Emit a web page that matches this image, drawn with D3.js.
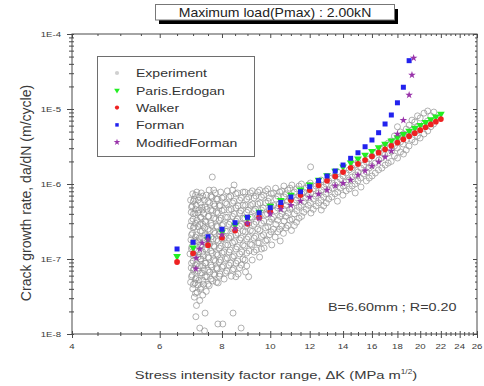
<!DOCTYPE html>
<html><head><meta charset="utf-8">
<script src="https://cdn.jsdelivr.net/npm/d3@7/dist/d3.min.js"></script>
<style>
body{margin:0;background:#fff}
text{font-family:"Liberation Sans",Arial,Helvetica,sans-serif}
</style>
</head><body>
<svg id="chart" width="484" height="386"></svg>
<script>
// ---------------- data ----------------
const titleText = "Maximum load(Pmax) : 2.00kN";
const noteText = "B=6.60mm ; R=0.20";
const xTitle = "Stress intensity factor range, \u0394K (MPa m";
const yTitle = "Crack growth rate, da/dN (m/cycle)";
const xTickLabels = [4, 6, 8, 10, 12, 14, 16, 18, 20, 22, 24, 26];
const yTickValues = [1e-8, 1e-7, 1e-6, 1e-5, 1e-4];
const legendNames = ["Experiment", "Paris.Erdogan", "Walker", "Forman", "ModifiedForman"];

const modelK = [6.5, 7, 7.5, 8, 8.5, 9, 9.5, 10, 10.5, 11, 11.5, 12, 12.5, 13, 13.5, 14,
  14.5, 15, 15.5, 16, 16.5, 17, 17.5, 18, 18.5, 19, 19.5, 20, 20.5, 21, 21.5, 22];
const parisRate = [1.086e-7, 1.417e-7, 1.815e-7, 2.287e-7, 2.84e-7, 3.485e-7, 4.23e-7, 5.085e-7,
  6.057e-7, 7.156e-7, 8.39e-7, 9.776e-7, 1.131e-6, 1.302e-6, 1.49e-6, 1.698e-6,
  1.926e-6, 2.174e-6, 2.444e-6, 2.74e-6, 3.06e-6, 3.403e-6, 3.776e-6, 4.179e-6,
  4.611e-6, 5.073e-6, 5.562e-6, 6.093e-6, 6.662e-6, 7.258e-6, 7.894e-6, 8.575e-6];
const walkerRate = [9.12e-8, 1.191e-7, 1.528e-7, 1.927e-7, 2.396e-7, 2.943e-7, 3.577e-7, 4.301e-7,
  5.13e-7, 6.064e-7, 7.115e-7, 8.296e-7, 9.609e-7, 1.106e-6, 1.268e-6, 1.445e-6,
  1.641e-6, 1.853e-6, 2.084e-6, 2.337e-6, 2.612e-6, 2.906e-6, 3.227e-6, 3.573e-6,
  3.943e-6, 4.341e-6, 4.764e-6, 5.22e-6, 5.709e-6, 6.223e-6, 6.77e-6, 7.355e-6];
const formanK = [6.5, 7, 7.5, 8, 8.5, 9, 9.5, 10, 10.5, 11, 11.5, 12, 12.5, 13, 13.5, 14,
  14.5, 15, 15.5, 16, 16.5, 17, 17.5, 18, 18.5, 19];
const formanRate = [1.36e-7, 1.67e-7, 1.98e-7, 2.49e-7, 3.05e-7, 3.6e-7, 4.14e-7, 4.83e-7,
  5.67e-7, 6.71e-7, 7.89e-7, 9.2e-7, 1.11e-6, 1.28e-6, 1.49e-6, 1.79e-6,
  2.2e-6, 2.61e-6, 3.14e-6, 3.86e-6, 4.83e-6, 6.31e-6, 8.32e-6, 1.21e-5, 1.95e-5, 4.41e-5];
const modFormanK = [7.09, 7.1, 7.22, 7.3, 7.5, 8, 8.5, 9, 9.5, 10, 10.5, 11, 11.5, 12, 12.5, 13,
  13.5, 14, 14.5, 15, 15.5, 16, 16.5, 17, 17.5, 18, 18.5, 19, 19.25, 19.4];
const modFormanRate = [7.4e-8, 1.03e-7, 1.36e-7, 1.64e-7, 1.8e-7, 2.1e-7, 2.55e-7, 3.0e-7, 3.5e-7,
  4.0e-7, 4.6e-7, 5.2e-7, 5.9e-7, 6.65e-7, 7.36e-7, 8.3e-7, 9.5e-7, 1.02e-6, 1.13e-6, 1.32e-6,
  1.5e-6, 1.74e-6, 1.96e-6, 2.29e-6, 2.75e-6, 4.64e-6, 7.1e-6, 1.54e-5, 2.84e-5, 4.8e-5];

// experimental points [deltaK, da/dN]
const experiment = [
 [6.92,6.1e-7],[6.94,4.2e-7],[6.91,2.75e-7],[6.93,1.8e-7],[6.9,1.17e-7],[6.94,7.6e-8],[6.92,4.9e-8],
 [6.99,7.4e-7],[6.97,5.1e-7],[7.0,3.4e-7],[6.98,2.2e-7],[6.96,1.45e-7],[7.0,9.4e-8],[6.97,6.1e-8],[6.99,4.0e-8],
 [7.04,6.3e-7],[7.06,4.1e-7],[7.03,2.7e-7],[7.07,1.74e-7],[7.05,1.13e-7],[7.03,7.4e-8],[7.06,4.8e-8],[7.04,3.1e-8],
 [7.12,7.8e-7],[7.1,5.2e-7],[7.13,3.3e-7],[7.11,2.1e-7],[7.14,1.32e-7],[7.12,8.6e-8],[7.1,5.6e-8],[7.13,3.6e-8],[7.11,2.4e-8],[7.09,1.7e-8],
 [7.21,6.7e-7],[7.19,4.5e-7],[7.22,2.9e-7],[7.2,1.9e-7],[7.18,1.24e-7],[7.21,8.1e-8],[7.19,5.2e-8],[7.22,2.8e-8],
 [7.27,7.6e-7],[7.29,4.9e-7],[7.26,3.6e-7],[7.3,2.35e-7],[7.28,1.54e-7],[7.26,1.0e-7],[7.29,6.5e-8],[7.27,4.2e-8],[7.22,1.2e-8],
 [7.37,6.1e-7],[7.35,4.0e-7],[7.38,2.6e-7],[7.36,1.7e-7],[7.34,1.1e-7],[7.37,7.1e-8],[7.35,4.6e-8],[7.4,1.9e-8],
 [7.44,7.1e-7],[7.46,4.6e-7],[7.43,3.1e-7],[7.47,2.0e-7],[7.45,1.32e-7],[7.43,8.8e-8],[7.46,5.8e-8],[7.44,3.7e-8],[7.38,1.1e-8],
 [7.54,8.3e-7],[7.56,5.6e-7],[7.53,3.7e-7],[7.57,2.4e-7],[7.55,1.58e-7],[7.53,1.03e-7],[7.56,6.7e-8],[7.54,4.4e-8],
 [7.65,1.24e-6],[7.64,6.7e-7],[7.66,4.4e-7],[7.63,2.8e-7],[7.67,1.85e-7],[7.65,1.2e-7],[7.63,7.8e-8],[7.66,5.1e-8],
 [7.76,7.6e-7],[7.74,5.1e-7],[7.77,3.4e-7],[7.75,2.2e-7],[7.73,1.45e-7],[7.76,9.4e-8],[7.74,6.1e-8],
 [7.84,6.3e-7],[7.86,4.1e-7],[7.83,2.7e-7],[7.87,1.74e-7],[7.85,1.13e-7],[7.83,7.4e-8],[7.86,4.8e-8],[7.85,1.36e-8],
 [7.95,7.8e-7],[7.93,5.2e-7],[7.96,3.5e-7],[7.94,2.3e-7],[7.97,1.49e-7],[7.95,9.7e-8],[7.93,6.3e-8],
 [8.06,6.7e-7],[8.08,4.5e-7],[8.05,2.9e-7],[8.09,1.9e-7],[8.07,1.24e-7],[8.05,8.1e-8],[8.08,5.4e-8],[8.03,1.36e-8],
 [8.2,8.1e-7],[8.18,5.4e-7],[8.21,3.6e-7],[8.19,2.35e-7],[8.22,1.54e-7],[8.2,1.03e-7],[8.18,6.9e-8],
 [8.33,6.9e-7],[8.35,4.6e-7],[8.32,3.1e-7],[8.34,2.0e-7],[8.31,1.32e-7],[8.33,8.8e-8],[8.35,5.9e-8],
 [8.46,9.7e-7],[8.45,5.9e-7],[8.47,4.0e-7],[8.44,2.6e-7],[8.48,1.7e-7],[8.46,1.1e-7],[8.44,7.4e-8],[8.42,1.9e-8],
 [8.6,7.6e-7],[8.62,5.1e-7],[8.59,3.4e-7],[8.61,2.2e-7],[8.58,1.45e-7],[8.6,9.4e-8],[8.62,6.3e-8],
 [8.75,6.5e-7],[8.73,4.4e-7],[8.76,2.9e-7],[8.74,1.9e-7],[8.77,1.24e-7],[8.75,8.3e-8],[8.74,1.2e-8],
 [8.9,7.8e-7],[8.92,5.2e-7],[8.89,3.5e-7],[8.91,2.3e-7],[8.88,1.49e-7],[8.9,9.7e-8],[8.92,6.7e-8],
 [9.05,6.7e-7],[9.03,4.5e-7],[9.06,3.0e-7],[9.04,1.96e-7],[9.07,1.28e-7],[9.05,5.8e-8],
 [9.2,8.1e-7],[9.22,5.4e-7],[9.19,3.6e-7],[9.21,2.35e-7],[9.18,1.54e-7],[9.2,9.7e-8],
 [9.36,6.9e-7],[9.34,4.6e-7],[9.37,3.1e-7],[9.35,2.0e-7],[9.38,1.32e-7],
 [9.52,8.3e-7],[9.54,5.6e-7],[9.51,3.7e-7],[9.53,2.4e-7],[9.5,1.64e-7],[9.52,1.06e-7],
 [9.7,7.1e-7],[9.68,4.8e-7],[9.71,3.2e-7],[9.69,2.1e-7],[9.72,1.4e-7],
 [9.88,8.6e-7],[9.9,5.9e-7],[9.87,4.0e-7],[9.89,2.7e-7],[9.86,1.8e-7],
 [10.05,7.4e-7],[10.03,5.1e-7],[10.06,3.4e-7],[10.04,2.3e-7],[10.07,1.54e-7],
 [10.25,8.8e-7],[10.27,6.3e-7],[10.24,4.4e-7],[10.26,2.9e-7],[10.23,1.96e-7],
 [10.45,7.8e-7],[10.43,5.4e-7],[10.46,3.7e-7],[10.44,2.5e-7],[10.47,1.74e-7],
 [10.65,9.4e-7],[10.67,6.7e-7],[10.64,4.6e-7],[10.66,3.2e-7],[10.63,2.2e-7],
 [10.85,8.3e-7],[10.83,5.9e-7],[10.86,4.1e-7],[10.84,2.8e-7],
 [11.05,9.7e-7],[11.07,6.9e-7],[11.04,4.9e-7],[11.06,3.4e-7],[11.03,2.4e-7],
 [11.3,8.6e-7],[11.28,6.1e-7],[11.31,4.4e-7],[11.29,3.1e-7],
 [11.55,1.0e-6],[11.57,7.4e-7],[11.54,5.2e-7],[11.56,3.7e-7],
 [11.8,8.8e-7],[11.78,6.5e-7],[11.81,4.6e-7],
 [12.05,1.69e-6],[12.03,1.03e-6],[12.06,7.6e-7],[12.04,5.6e-7],[12.07,4.1e-7],
 [12.35,9.4e-7],[12.33,6.9e-7],[12.36,5.1e-7],
 [12.65,1.13e-6],[12.67,8.3e-7],[12.64,6.1e-7],[12.66,4.5e-7],
 [12.95,1.0e-6],[12.93,7.4e-7],[12.96,5.6e-7],
 [13.3,1.2e-6],[13.32,8.8e-7],[13.29,6.7e-7],
 [13.65,1.45e-6],[13.63,1.06e-6],[13.66,7.8e-7],[13.64,5.9e-7],
 [14.0,1.28e-6],[14.02,9.4e-7],[13.99,7.1e-7],
 [14.4,1.54e-6],[14.38,1.13e-6],[14.41,8.6e-7],
 [14.8,1.79e-6],[14.82,1.32e-6],[14.79,1.0e-6],[14.81,7.6e-7],
 [15.2,1.63e-6],[15.18,1.2e-6],[15.21,9.1e-7],
 [15.6,1.96e-6],[15.62,1.45e-6],[15.59,1.1e-6],
 [16.0,2.36e-6],[15.98,1.74e-6],[16.01,1.28e-6],
 [16.5,2.84e-6],[16.52,2.09e-6],[16.49,1.54e-6],
 [17.0,3.31e-6],[16.98,2.44e-6],[17.01,1.79e-6],
 [17.5,3.74e-6],[17.52,2.75e-6],[17.49,2.0e-6],
 [18.0,5.8e-6],[18.02,4.1e-6],[17.99,3.02e-6],[18.01,2.22e-6],
 [18.5,4.64e-6],[18.48,3.41e-6],[18.51,2.51e-6],
 [19.0,6.1e-6],[19.02,4.5e-6],[18.99,3.21e-6],
 [19.5,6.7e-6],[19.48,4.94e-6],[19.51,3.63e-6],
 [20.0,7.6e-6],[20.02,5.6e-6],[19.99,4.1e-6],
 [20.7,9.4e-6],[20.68,6.9e-6],[20.71,5.1e-6],
 [21.3,9.1e-6],[21.28,6.3e-6],
 // second, staggered layer
 [6.95,4.9e-7],[6.95,3.2e-7],[6.95,2.1e-7],[6.95,1.36e-7],[6.95,8.8e-8],[6.95,5.8e-8],
 [7.01,5.9e-7],[7.01,4.0e-7],[7.01,2.6e-7],[7.01,1.7e-7],[7.01,1.1e-7],[7.01,7.1e-8],[7.01,4.6e-8],
 [7.08,7.1e-7],[7.08,4.6e-7],[7.08,3.0e-7],[7.08,1.96e-7],[7.08,1.28e-7],[7.08,8.3e-8],[7.08,5.4e-8],[7.08,3.5e-8],
 [7.16,6.1e-7],[7.16,4.1e-7],[7.16,2.7e-7],[7.16,1.7e-7],[7.16,1.06e-7],[7.16,6.9e-8],[7.16,4.5e-8],
 [7.24,5.6e-7],[7.24,3.6e-7],[7.24,2.35e-7],[7.24,1.54e-7],[7.24,1.0e-7],[7.24,6.5e-8],[7.24,4.0e-8],
 [7.32,6.9e-7],[7.32,4.5e-7],[7.32,2.9e-7],[7.32,1.9e-7],[7.32,1.24e-7],[7.32,8.1e-8],[7.32,5.2e-8],[7.32,3.3e-8],
 [7.4,4.9e-7],[7.4,3.2e-7],[7.4,2.1e-7],[7.4,1.36e-7],[7.4,8.8e-8],[7.4,5.8e-8],
 [7.5,5.8e-7],[7.5,3.7e-7],[7.5,2.5e-7],[7.5,1.64e-7],[7.5,1.06e-7],[7.5,7.1e-8],[7.5,4.6e-8],
 [7.6,6.9e-7],[7.6,4.5e-7],[7.6,3.0e-7],[7.6,1.96e-7],[7.6,1.28e-7],[7.6,8.3e-8],[7.6,5.4e-8],
 [7.7,8.3e-7],[7.7,5.4e-7],[7.7,3.5e-7],[7.7,2.3e-7],[7.7,1.49e-7],[7.7,9.7e-8],[7.7,6.3e-8],
 [7.8,6.3e-7],[7.8,4.2e-7],[7.8,2.75e-7],[7.8,1.8e-7],[7.8,1.17e-7],[7.8,7.6e-8],[7.8,4.9e-8],
 [7.9,5.1e-7],[7.9,3.3e-7],[7.9,2.15e-7],[7.9,1.4e-7],[7.9,9.1e-8],[7.9,5.9e-8],
 [8.0,6.5e-7],[8.0,4.4e-7],[8.0,2.8e-7],[8.0,1.85e-7],[8.0,1.2e-7],[8.0,7.8e-8],
 [8.13,5.6e-7],[8.13,3.6e-7],[8.13,2.35e-7],[8.13,1.54e-7],[8.13,1.0e-7],[8.13,6.5e-8],
 [8.26,6.7e-7],[8.26,4.5e-7],[8.26,2.9e-7],[8.26,1.9e-7],[8.26,1.24e-7],[8.26,8.3e-8],
 [8.4,8.3e-7],[8.4,5.6e-7],[8.4,3.7e-7],[8.4,2.5e-7],[8.4,1.64e-7],[8.4,1.06e-7],[8.4,7.1e-8],
 [8.53,7.4e-7],[8.53,4.8e-7],[8.53,3.2e-7],[8.53,2.1e-7],[8.53,1.36e-7],[8.53,8.8e-8],[8.53,5.8e-8],
 [8.68,6.1e-7],[8.68,4.1e-7],[8.68,2.75e-7],[8.68,1.8e-7],[8.68,1.17e-7],[8.68,7.6e-8],
 [8.82,7.8e-7],[8.82,5.2e-7],[8.82,3.5e-7],[8.82,2.35e-7],[8.82,1.54e-7],[8.82,1.0e-7],
 [8.97,6.3e-7],[8.97,4.2e-7],[8.97,2.8e-7],[8.97,1.85e-7],[8.97,1.2e-7],[8.97,8.1e-8],
 [9.12,7.6e-7],[9.12,5.2e-7],[9.12,3.6e-7],[9.12,2.4e-7],[9.12,1.58e-7],
 [9.28,6.5e-7],[9.28,4.4e-7],[9.28,2.9e-7],[9.28,1.9e-7],[9.28,1.24e-7],
 [9.44,7.8e-7],[9.44,5.4e-7],[9.44,3.7e-7],[9.44,2.5e-7],[9.44,1.64e-7],
 [9.6,6.7e-7],[9.6,4.5e-7],[9.6,3.0e-7],[9.6,2.0e-7],[9.6,1.36e-7],
 [9.79,8.1e-7],[9.79,5.6e-7],[9.79,3.9e-7],[9.79,2.6e-7],[9.79,1.74e-7],
 [9.96,6.5e-7],[9.96,4.5e-7],[9.96,3.1e-7],[9.96,2.1e-7],
 [10.15,7.6e-7],[10.15,5.2e-7],[10.15,3.6e-7],[10.15,2.5e-7],
 [10.35,6.9e-7],[10.35,4.8e-7],[10.35,3.3e-7],[10.35,2.3e-7],
 [10.55,8.1e-7],[10.55,5.8e-7],[10.55,4.0e-7],[10.55,2.75e-7],
 [10.75,7.4e-7],[10.75,5.2e-7],[10.75,3.7e-7],[10.75,2.6e-7],
 [10.95,8.8e-7],[10.95,6.5e-7],[10.95,4.6e-7],[10.95,3.3e-7],
 [11.18,7.8e-7],[11.18,5.6e-7],[11.18,4.0e-7],[11.18,2.8e-7],
 [11.42,9.4e-7],[11.42,6.9e-7],[11.42,4.9e-7],[11.42,3.5e-7],
 [11.68,7.8e-7],[11.68,5.8e-7],[11.68,4.2e-7],
 [11.92,9.7e-7],[11.92,7.1e-7],[11.92,5.2e-7],
 [12.2,8.6e-7],[12.2,6.3e-7],[12.2,4.6e-7],
 [12.5,1.03e-6],[12.5,7.6e-7],[12.5,5.6e-7],
 [12.8,9.1e-7],[12.8,6.7e-7],[12.8,5.1e-7],
 [13.1,1.1e-6],[13.1,8.3e-7],[13.1,6.3e-7],
 [13.48,1.28e-6],[13.48,9.7e-7],[13.48,7.4e-7],
 [13.82,1.17e-6],[13.82,8.8e-7],
 [14.2,1.4e-6],[14.2,1.06e-6],[14.2,8.1e-7],
 [14.6,1.63e-6],[14.6,1.24e-6],[14.6,9.4e-7],
 [15.0,1.96e-6],[15.0,1.45e-6],[15.0,1.1e-6],
 [15.4,1.79e-6],[15.4,1.36e-6],
 [15.8,2.16e-6],[15.8,1.63e-6],[15.8,1.2e-6],
 [16.25,2.59e-6],[16.25,1.9e-6],[16.25,1.4e-6],
 [16.75,3.02e-6],[16.75,2.22e-6],[16.75,1.63e-6],
 [17.25,3.52e-6],[17.25,2.59e-6],[17.25,1.9e-6],
 [17.75,4.36e-6],[17.75,3.21e-6],[17.75,2.36e-6],
 [18.25,4.94e-6],[18.25,3.63e-6],[18.25,2.67e-6],
 [18.75,5.4e-6],[18.75,3.9e-6],[18.75,2.84e-6],
 [19.25,7.1e-6],[19.25,5.2e-6],[19.25,3.9e-6],
 [19.75,8.1e-6],[19.75,5.9e-6],[19.75,4.36e-6],
 [20.35,8.8e-6],[20.35,6.3e-6],[20.35,4.64e-6],
 [21.0,8.1e-6],[21.0,5.8e-6]
];

// ---------------- chart ----------------
const svg = d3.select("#chart");
const L = 72, R = 477, T = 34, B = 334;
const x = d3.scaleLog().domain([4, 26]).range([L, R]);
const y = d3.scaleLog().domain([1e-8, 1e-4]).range([B, T]);
const axisColor = "#4a4a4a", textColor = "#3a3a3a";

function stretchedText(g, str, px, py, size, sx, anchor) {
  return g.append("text")
    .attr("transform", `translate(${px},${py}) scale(${sx},1)`)
    .attr("text-anchor", anchor || "start")
    .attr("font-size", size)
    .attr("fill", textColor)
    .text(str);
}

// title box
const tb = svg.append("g");
tb.append("rect").attr("x", 159).attr("y", 9).attr("width", 239).attr("height", 15).attr("fill", "#000");
tb.append("rect").attr("x", 155.5).attr("y", 4.5).attr("width", 239).attr("height", 15.5)
  .attr("fill", "#fff").attr("stroke", "#777").attr("stroke-width", 1);
stretchedText(tb, titleText, 275, 17, 12, 1.17, "middle").attr("fill", "#222");

// minor ticks
const minorX = d3.range(4.5, 26, 0.5).filter(v => !xTickLabels.includes(v));
const minorY = [];
for (let e = -8; e < -4; e++) for (let m = 2; m <= 9; m++) minorY.push(m * Math.pow(10, e));

function styleAxis(g) {
  g.select(".domain").remove();
  g.selectAll("line").attr("stroke", axisColor).attr("stroke-width", 1);
  g.selectAll("text").remove();
}
svg.append("g").attr("transform", `translate(0,${B})`)
  .call(d3.axisBottom(x).tickValues(xTickLabels).tickSize(4)).call(styleAxis)
  .selectAll("line").attr("y1", -3);
svg.append("g").attr("transform", `translate(0,${B})`)
  .call(d3.axisBottom(x).tickValues(minorX).tickSize(2)).call(styleAxis)
  .selectAll("line").attr("y1", -2);
svg.append("g").attr("transform", `translate(0,${T})`)
  .call(d3.axisTop(x).tickValues(xTickLabels).tickSize(-4)).call(styleAxis);
svg.append("g").attr("transform", `translate(0,${T})`)
  .call(d3.axisTop(x).tickValues(minorX).tickSize(-2)).call(styleAxis);
svg.append("g").attr("transform", `translate(${L},0)`)
  .call(d3.axisLeft(y).tickValues(yTickValues).tickSize(5)).call(styleAxis)
  .selectAll("line").attr("x1", 2);
svg.append("g").attr("transform", `translate(${L},0)`)
  .call(d3.axisLeft(y).tickValues(minorY).tickSize(3)).call(styleAxis)
  .selectAll("line").attr("x1", 2);
svg.append("g").attr("transform", `translate(${R},0)`)
  .call(d3.axisRight(y).tickValues(yTickValues).tickSize(-4)).call(styleAxis);
svg.append("g").attr("transform", `translate(${R},0)`)
  .call(d3.axisRight(y).tickValues(minorY).tickSize(-2)).call(styleAxis);

svg.append("rect").attr("x", L).attr("y", T).attr("width", R - L).attr("height", B - T)
  .attr("fill", "none").attr("stroke", axisColor).attr("stroke-width", 1);

const labels = svg.append("g");
xTickLabels.forEach(v => stretchedText(labels, String(v), x(v), 348.5, 8, 1.2, "middle"));
yTickValues.forEach(v => stretchedText(labels, "1E" + Math.round(Math.log10(v)), 61, y(v) + 3, 8, 1.2, "end"));

const xt = stretchedText(svg, "", 276, 379, 11.6, 1.27, "middle");
xt.append("tspan").text(xTitle);
xt.append("tspan").attr("font-size", 6.5).attr("dy", -5).text("1/2");
xt.append("tspan").attr("dy", 5).text(")");
svg.append("text").attr("transform", "translate(31,193) rotate(-90)")
  .attr("text-anchor", "middle").attr("font-size", 14).attr("fill", textColor).text(yTitle);

stretchedText(svg, noteText, 328, 311, 11.6, 1.24, "start");

const plot = svg.append("g");
plot.selectAll("circle.exp").data(experiment).enter().append("circle")
  .attr("class", "exp")
  .attr("cx", d => x(d[0])).attr("cy", d => y(d[1])).attr("r", 3)
  .attr("fill", "none").attr("stroke", "#909090").attr("stroke-width", 0.7);

const sym = {
  tri: d3.symbol().type(d3.symbolTriangle).size(26),
  circ: d3.symbol().type(d3.symbolCircle).size(26),
  sq: d3.symbol().type(d3.symbolSquare).size(25),
  star: d3.symbol().type(d3.symbolStar).size(18)
};
function series(ks, vs, path, color, rot) {
  plot.selectAll(null).data(ks.map((k, i) => [k, vs[i]])).enter().append("path")
    .attr("d", path)
    .attr("transform", d => `translate(${x(d[0])},${y(d[1])})${rot ? " rotate(180)" : ""}`)
    .attr("fill", color);
}
series(modelK, parisRate, sym.tri(), "#22ee22", true);
series(modelK, walkerRate, sym.circ(), "#ee2222", false);
series(formanK, formanRate, sym.sq(), "#2222ee", false);
series(modFormanK, modFormanRate, sym.star(), "#9933aa", false);

const lg = svg.append("g");
lg.append("rect").attr("x", 97.5).attr("y", 56.5).attr("width", 157).attr("height", 100)
  .attr("fill", "#fff").attr("stroke", "#6e6e6e").attr("stroke-width", 1);
const legendMarks = [
  d3.symbol().type(d3.symbolCircle).size(14)(), d3.symbol().type(d3.symbolTriangle).size(14)(),
  d3.symbol().type(d3.symbolCircle).size(14)(), d3.symbol().type(d3.symbolSquare).size(12)(),
  d3.symbol().type(d3.symbolStar).size(14)()];
const legendColors = ["#d0d0d0", "#22ee22", "#ee2222", "#2222ee", "#9933aa"];
legendNames.forEach((n, i) => {
  const cy = 73 + i * 17.3;
  lg.append("path").attr("d", legendMarks[i])
    .attr("transform", `translate(117,${cy})${i === 1 ? " rotate(180)" : ""}`)
    .attr("fill", legendColors[i]);
  stretchedText(lg, n, 136, cy + 4.3, 11.5, 1.22, "start").attr("fill", "#333");
});
</script>
</body></html>
